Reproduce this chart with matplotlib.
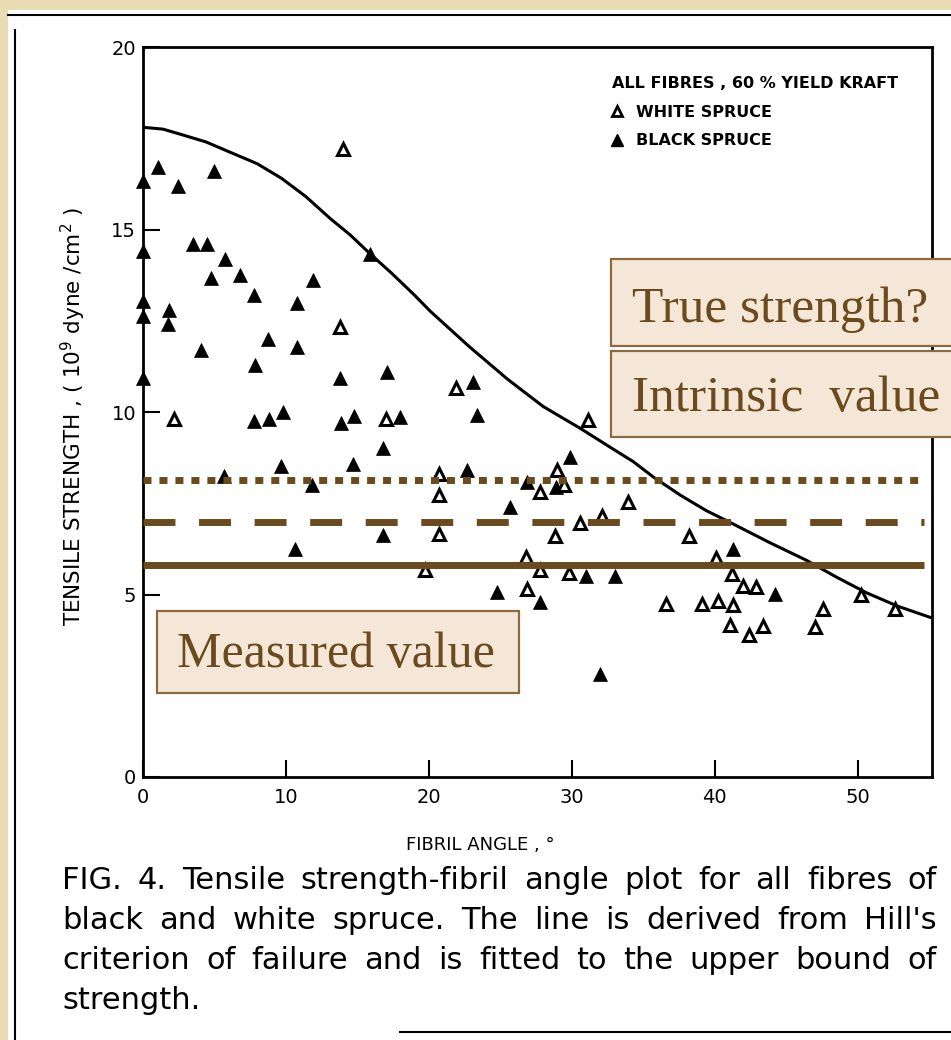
import matplotlib
matplotlib.use("Agg")
import matplotlib.pyplot as plt
from matplotlib.patches import Rectangle
from matplotlib.lines import Line2D

# white spruce (open triangles): fibril angle (deg), tensile strength (1e9 dyne/cm2)
white_angle = [13.96, 13.8, 2.19, 17.0, 21.9, 31.1, 20.7, 28.95, 27.8, 29.46,
               20.7, 33.9, 30.56, 32.1, 20.7, 28.8, 38.2, 26.8, 19.7, 27.8,
               29.8, 26.9, 36.6, 39.1, 40.2, 41.3, 40.1, 41.2, 42.0, 42.9,
               41.1, 42.4, 43.4, 47.6, 47.0, 50.2, 52.6]
white_strength = [17.2, 12.34, 9.82, 9.8, 10.67, 9.77, 8.31, 8.4, 7.82, 8.0,
                  7.73, 7.53, 6.96, 7.16, 6.66, 6.59, 6.61, 6.02, 5.68, 5.68,
                  5.6, 5.14, 4.75, 4.75, 4.82, 4.7, 6.0, 5.57, 5.22, 5.21,
                  4.16, 3.88, 4.13, 4.6, 4.11, 4.98, 4.6]

# black spruce (filled triangles)
black_angle = [0, 0, 0, 0, 0, 1.03, 2.42, 4.99, 3.47, 4.5,
               5.76, 4.76, 6.8, 11.87, 15.9, 7.78, 10.8, 1.84, 1.72, 8.72,
               10.77, 4.06, 7.83, 13.8, 17.1, 7.78, 8.79, 9.77, 13.85, 14.78,
               18.0, 16.8, 9.65, 14.7, 5.64, 11.82, 16.8, 10.6, 23.1, 23.4,
               29.9, 22.66, 26.85, 28.9, 25.7, 31.0, 33.0, 24.8, 27.8, 32.0,
               41.25, 44.2]
black_strength = [16.33, 14.4, 13.03, 12.62, 10.92, 16.7, 16.2, 16.6, 14.6, 14.6,
                  14.18, 13.67, 13.76, 13.63, 14.33, 13.2, 12.98, 12.8, 12.4, 11.99,
                  11.79, 11.7, 11.3, 10.92, 11.1, 9.75, 9.8, 10.0, 9.71, 9.88,
                  9.87, 9.01, 8.52, 8.58, 8.24, 8.0, 6.63, 6.24, 10.81, 9.91,
                  8.77, 8.4, 8.08, 7.94, 7.39, 5.51, 5.51, 5.07, 4.8, 2.81,
                  6.24, 5.02]

# Hill's criterion curve
hill_angle = [0, 1.4, 2.7, 4.4, 6.2, 8.0, 9.7, 11.4, 13.1, 14.5,
              15.9, 17.4, 19.0, 20.1, 22.8, 25.5, 28.0, 30.6, 32.5, 34.3,
              35.7, 37.6, 39.4, 41.3, 43.8, 46.4, 48.5, 50.6, 52.8, 55.1]
hill_strength = [17.8, 17.75, 17.6, 17.4, 17.1, 16.8, 16.4, 15.9, 15.3, 14.85,
                 14.33, 13.8, 13.2, 12.76, 11.8, 10.9, 10.15, 9.55, 9.08, 8.64,
                 8.22, 7.72, 7.3, 6.93, 6.43, 5.94, 5.48, 5.05, 4.68, 4.37]

# reference levels (true strength / intrinsic / measured)
level_values = [8.15, 7.0, 5.8]

x_ticks = [0, 10, 20, 30, 40, 50]
y_ticks = [0, 5, 10, 15, 20]

caption_lines = [
    "FIG. 4. Tensile strength-fibril angle plot for all fibres of",
    "black and white spruce. The line is derived from Hill's",
    "criterion of failure and is fitted to the upper bound of",
    "strength.",
]

brown = "#6b4a1e"
box_fill = "#f5e7d7"
box_edge = "#8a6a3e"
beige = "#eadcb2"

W, H = 951, 1040
fig = plt.figure(figsize=(W / 100, H / 100), dpi=100)
fig.patch.set_facecolor(beige)

# white page with scanned frame lines
fig.add_artist(Rectangle((8 / W, 0), 1, 1 - 10 / H, transform=fig.transFigure,
                         fc="white", ec="none", zorder=-10))
fig.add_artist(Line2D([8 / W, 1], [1 - 15 / H] * 2, transform=fig.transFigure,
                      color="black", lw=1.5, zorder=-9))
fig.add_artist(Line2D([15 / W] * 2, [0, 1 - 30 / H], transform=fig.transFigure,
                      color="black", lw=1.5, zorder=-9))
fig.add_artist(Line2D([400 / W, 1], [1 - 1032 / H] * 2, transform=fig.transFigure,
                      color="black", lw=1.5, zorder=-9))

ax = fig.add_axes([143 / W, 1 - 777 / H, (932 - 143) / W, (777 - 47) / H])
ax.set_xlim(0, 55.2)
ax.set_ylim(0, 20)
for s in ax.spines.values():
    s.set_linewidth(2)
ax.set_xticks(x_ticks)
ax.set_yticks(y_ticks)
ax.tick_params(direction="in", length=12, width=1.5, labelsize=14)
ax.tick_params(axis="x", pad=8)
ax.tick_params(axis="y", pad=5)

ax.plot(hill_angle, hill_strength, color="black", lw=2.2, zorder=2)

ax.plot(black_angle, black_strength, ls="none", marker="^", ms=10,
        mfc="black", mec="black", mew=0.5, zorder=3, clip_on=False)
ax.plot(white_angle, white_strength, ls="none", marker="^", ms=9,
        mfc="white", mec="black", mew=2.2, zorder=3, clip_on=False)

# brown level lines
styles = [(1.15, 1.15), (4.6, 3.4), None]
for v, d in zip(level_values, styles):
    ln = ax.axhline(v, xmin=0, xmax=0.99, color=brown, lw=5, zorder=4,
                    solid_capstyle="butt", dash_capstyle="butt")
    if d is not None:
        ln.set_dashes(d)

ax.set_xlabel("FIBRIL ANGLE , \u00b0", fontsize=13)
ax.xaxis.set_label_coords((480 - 143) / 789, (777 - 836) / 730)
ax.set_ylabel("TENSILE STRENGTH , ( 10$^9$ dyne /cm$^2$ )", fontsize=15.5)
ax.yaxis.set_label_coords((88 - 143) / 789, 0.493)

h_white = Line2D([], [], ls="none", marker="^", ms=7, mfc="white", mec="black", mew=2)
h_black = Line2D([], [], ls="none", marker="^", ms=8, mfc="black", mec="black")
ax.legend([h_white, h_black], ["WHITE SPRUCE", "BLACK SPRUCE"],
          title="ALL FIBRES , 60 % YIELD KRAFT", loc="upper left",
          bbox_to_anchor=((612 - 143) / 789, (777 - 76) / 730),
          frameon=False, prop={"weight": "bold", "size": 11.5},
          title_fontproperties={"weight": "bold", "size": 11.5},
          alignment="left", handlelength=0.6, handletextpad=0.9,
          borderpad=0, borderaxespad=0, labelspacing=0.85)

# annotation boxes
boxes = [
    ("True strength?", 611, 259, 346, 322, 37),
    ("Intrinsic  value", 611, 351, 437, 411, 37),
]
for label, x0, top, bot, base, fs in boxes:
    fig.add_artist(Rectangle((x0 / W, 1 - bot / H), 0.5, (bot - top) / H,
                             transform=fig.transFigure, fc=box_fill, ec=box_edge,
                             lw=1.6, zorder=5))
    fig.text(632 / W, 1 - base / H, label, family="Liberation Serif",
             fontsize=fs, color=brown, va="baseline", ha="left", zorder=6)

fig.add_artist(Rectangle((157 / W, 1 - 693 / H), (519 - 157) / W, (693 - 611) / H,
                         transform=fig.transFigure, fc=box_fill, ec=box_edge,
                         lw=1.6, zorder=5))
fig.text(177 / W, 1 - 667 / H, "Measured value", family="Liberation Serif",
         fontsize=36, color=brown, va="baseline", ha="left", zorder=6)

# caption, justified word by word
renderer = fig.canvas.get_renderer()
cap_left, cap_right = 62, 937
baselines = [889, 929, 969, 1009]
cap_font = dict(family="DejaVu Sans", fontsize=22, color="black", va="baseline")
for i, line in enumerate(caption_lines):
    words = line.split()
    widths = []
    for w in words:
        t = fig.text(0, 0, w, **cap_font)
        widths.append(t.get_window_extent(renderer).width)
        t.remove()
    if i < len(caption_lines) - 1 and len(words) > 1:
        gap = (cap_right - cap_left - sum(widths)) / (len(words) - 1)
    else:
        gap = 8
    x = cap_left
    for w, wd in zip(words, widths):
        fig.text(x / W, 1 - baselines[i] / H, w, **cap_font)
        x += wd + gap

fig.savefig("out.png", dpi=100, facecolor=fig.get_facecolor())
